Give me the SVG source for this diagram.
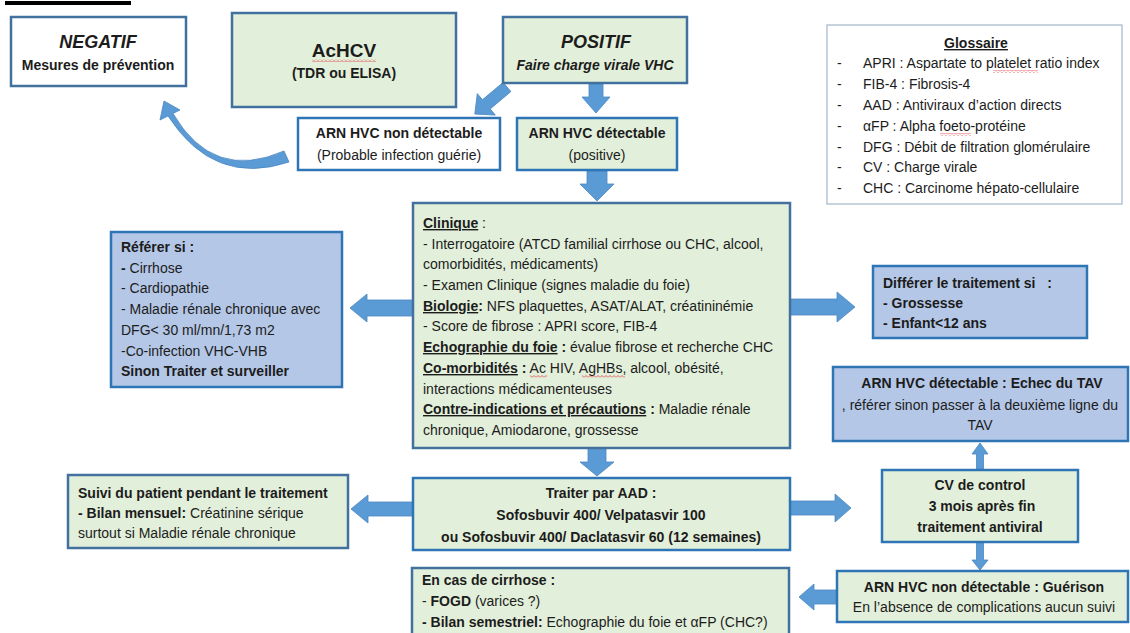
<svg xmlns="http://www.w3.org/2000/svg" width="1130" height="633" viewBox="0 0 1130 633">
  <style>
    text { font-family: "Liberation Sans", Arial, sans-serif; font-size: 14px; fill: #1c1c1c; }
    .b { font-weight: bold; }
    .i { font-style: italic; }
    .c { text-anchor: middle; }
    .u { text-decoration: underline; }
    .big { font-size: 18px; }
    .green { fill: #E2EFDA; }
    .blue { fill: #B4C7E7; }
    .white { fill: #FFFFFF; }
    .steel { stroke: #41719C; stroke-width: 2.5; }
    .bright { stroke: #2E75B6; stroke-width: 2.5; }
    .arrow { fill: #5B9BD5; stroke: #4A87C2; stroke-width: 0.8; }
  </style>
  <defs>
    <pattern id="squiggle" width="4" height="3" patternUnits="userSpaceOnUse">
      <path d="M0,2.5 L2,0.5 L4,2.5" fill="none" stroke="#E0393E" stroke-width="0.8"/>
    </pattern>
  </defs>

  <rect width="1130" height="633" fill="#FFFFFF"/>

  <!-- title underline -->
  <rect x="5" y="1" width="126" height="4" fill="#000000"/>

  <!-- connectors -->
  <g id="connectors">
    <!-- POSITIF -> ARN non détectable -->
    <polygon class="arrow" transform="translate(507,87) rotate(140)" points="42,0 27,-14 27,-6 0,-6 0,6 27,6 27,14"/>
    <!-- POSITIF -> ARN détectable -->
    <polygon class="arrow" points="596,113 582,97 589,97 589,84 603,84 603,97 610,97"/>
    <!-- ARN non détectable -> NEGATIF (curved) -->
    <path class="arrow" d="M164,101 L180,110 L173,113.5 Q213,182 284,151 L289,162 Q214,187 168,116 L160,120 Z"/>
    <!-- ARN détectable -> Clinique -->
    <polygon class="arrow" points="597,201 580,184 587,184 587,171 607,171 607,184 614,184"/>
    <!-- Clinique -> Référer -->
    <polygon class="arrow" points="350,308 367,294 367,300 413,300 413,316 367,316 367,322"/>
    <!-- Clinique -> Différer -->
    <polygon class="arrow" points="855,307 837,292 837,299 790,299 790,315 837,315 837,322"/>
    <!-- Clinique -> Traiter -->
    <polygon class="arrow" points="597,476 580,462 588,462 588,448 606,448 606,462 614,462"/>
    <!-- Traiter -> Suivi -->
    <polygon class="arrow" points="351,509 368,495 368,502 413,502 413,516 368,516 368,523"/>
    <!-- Traiter -> CV de control -->
    <polygon class="arrow" points="851,508 835,494 835,501 790,501 790,515 835,515 835,522"/>
    <!-- CV de control -> Echec -->
    <polygon class="arrow" points="980,443 972,454 976.5,454 976.5,470 983.5,470 983.5,454 988,454"/>
    <!-- CV de control -> Guérison -->
    <polygon class="arrow" points="980,570 972,560 976.5,560 976.5,542 983.5,542 983.5,560 988,560"/>
    <!-- Guérison -> cirrhose -->
    <polygon class="arrow" points="799,597 814,584 814,590 837,590 837,604 814,604 814,610"/>
  </g>

  <g id="negatif">
    <rect class="white steel" x="11" y="17" width="175" height="69"/>
    <text class="b i c big" x="98" y="48">NEGATIF</text>
    <text class="b c" x="98" y="70">Mesures de prévention</text>
  </g>

  <g id="achcv">
    <rect class="green steel" x="232" y="13" width="224" height="94"/>
    <text class="b c" x="344" y="57" style="font-size:19px">AcHCV</text>
    <rect x="312" y="59" width="64" height="3" fill="url(#squiggle)"/>
    <text class="b c" x="344" y="78">(TDR ou ELISA)</text>
  </g>

  <g id="positif">
    <rect class="green steel" x="503" y="17" width="184" height="66"/>
    <text class="b i c big" x="596" y="48">POSITIF</text>
    <text class="b i c" x="595" y="70">Faire charge virale VHC</text>
  </g>

  <g id="arn-non-detectable">
    <rect class="white bright" x="298" y="118" width="202" height="52"/>
    <text class="b c" x="399" y="138">ARN HVC non détectable</text>
    <text class="c" x="399" y="160">(Probable infection guérie)</text>
  </g>

  <g id="arn-detectable">
    <rect class="green bright" x="517" y="118" width="160" height="52"/>
    <text class="b c" x="597" y="138">ARN HVC détectable</text>
    <text class="c" x="597" y="160">(positive)</text>
  </g>

  <g id="glossaire">
    <rect x="827" y="25" width="295" height="179" fill="#FFFFFF" stroke="#A3B6CB" stroke-width="1.2"/>
    <text class="b c u" x="976" y="48">Glossaire</text>
    <g>
      <text x="837" y="68">-</text><text x="863" y="68">APRI : Aspartate to platelet ratio index</text>
      <text x="837" y="89">-</text><text x="863" y="89">FIB-4 : Fibrosis-4</text>
      <text x="837" y="110">-</text><text x="863" y="110">AAD : Antiviraux d’action directs</text>
      <text x="837" y="131">-</text><text x="863" y="131">αFP : Alpha foeto-protéine</text>
      <text x="837" y="152">-</text><text x="863" y="152">DFG : Débit de filtration glomérulaire</text>
      <text x="837" y="172">-</text><text x="863" y="172">CV : Charge virale</text>
      <text x="837" y="193">-</text><text x="863" y="193">CHC : Carcinome hépato-cellulaire</text>
    </g>
    <rect x="993" y="70" width="45" height="3" fill="url(#squiggle)"/>
    <rect x="940" y="133" width="31" height="3" fill="url(#squiggle)"/>
  </g>

  <g id="clinique">
    <rect class="green steel" x="413" y="203" width="377" height="245"/>
    <text x="423" y="228"><tspan class="b u">Clinique</tspan> :</text>
    <text x="423" y="249">- Interrogatoire (ATCD familial cirrhose ou CHC, alcool,</text>
    <text x="423" y="269">comorbidités, médicaments)</text>
    <text x="423" y="290">- Examen Clinique (signes maladie du foie)</text>
    <text x="423" y="311"><tspan class="b u">Biologie</tspan><tspan class="b">:</tspan> NFS plaquettes, ASAT/ALAT, créatininémie</text>
    <text x="423" y="331">- Score de fibrose : APRI score, FIB-4</text>
    <text x="423" y="352"><tspan class="b u">Echographie du foie</tspan><tspan class="b"> :</tspan> évalue fibrose et recherche CHC</text>
    <text x="423" y="373"><tspan class="b u">Co-morbidités</tspan><tspan class="b"> :</tspan> Ac HIV, AgHBs, alcool, obésité,</text>
    <rect x="530" y="375" width="17" height="3" fill="url(#squiggle)"/>
    <rect x="582" y="375" width="43" height="3" fill="url(#squiggle)"/>
    <text x="423" y="394">interactions médicamenteuses</text>
    <text x="423" y="414"><tspan class="b u">Contre-indications et précautions</tspan><tspan class="b"> :</tspan> Maladie rénale</text>
    <text x="423" y="435">chronique, Amiodarone, grossesse</text>
  </g>

  <g id="referer">
    <rect class="blue bright" x="111" y="232" width="231" height="155"/>
    <text class="b" x="121" y="252">Référer si :</text>
    <text x="121" y="273"><tspan class="b">-</tspan> Cirrhose</text>
    <text x="121" y="293">- Cardiopathie</text>
    <text x="121" y="314">- Maladie rénale chronique avec</text>
    <text x="121" y="335">DFG&lt; 30 ml/mn/1,73 m2</text>
    <text x="121" y="356">-Co-infection VHC-VHB</text>
    <text class="b" x="121" y="376">Sinon Traiter et surveiller</text>
  </g>

  <g id="differer">
    <rect class="blue bright" x="873" y="266" width="214" height="72"/>
    <text class="b" x="883" y="288" xml:space="preserve">Différer le traitement si   :</text>
    <text class="b" x="883" y="308">- Grossesse</text>
    <text class="b" x="883" y="328">- Enfant&lt;12 ans</text>
  </g>

  <g id="echec">
    <rect class="blue bright" x="833" y="367" width="295" height="74"/>
    <text class="b c" x="982" y="388">ARN HVC détectable : Echec du TAV</text>
    <text class="c" x="980" y="410">, référer sinon passer à la deuxième ligne du</text>
    <text class="c" x="980" y="430">TAV</text>
  </g>

  <g id="traiter">
    <rect class="green bright" x="413" y="478" width="377" height="72"/>
    <text class="b c" x="601" y="498">Traiter par AAD :</text>
    <text class="b c" x="601" y="520">Sofosbuvir 400/ Velpatasvir 100</text>
    <text class="b c" x="601" y="542">ou Sofosbuvir 400/ Daclatasvir 60 (12 semaines)</text>
  </g>

  <g id="suivi">
    <rect class="green steel" x="68" y="475" width="280" height="73"/>
    <text class="b" x="78" y="498">Suivi du patient pendant le traitement</text>
    <text x="78" y="518"><tspan class="b">- Bilan mensuel:</tspan> Créatinine sérique</text>
    <text x="78" y="538">surtout si Maladie rénale chronique</text>
  </g>

  <g id="cv-control">
    <rect class="green bright" x="882" y="470" width="196" height="72"/>
    <text class="b c" x="980" y="490">CV de control</text>
    <text class="b c" x="980" y="511" xml:space="preserve"> 3 mois après fin</text>
    <text class="b c" x="980" y="532">traitement antiviral</text>
  </g>

  <g id="guerison">
    <rect class="green bright" x="837" y="571" width="291" height="51"/>
    <text class="b c" x="984" y="592">ARN HVC non détectable : Guérison</text>
    <text class="c" x="984" y="612">En l’absence de complications aucun suivi</text>
  </g>

  <g id="cirrhose">
    <rect class="green steel" x="412" y="568" width="377" height="75"/>
    <text class="b" x="422" y="585">En cas de cirrhose :</text>
    <text x="422" y="606">- <tspan class="b">FOGD</tspan> (varices ?)</text>
    <text x="422" y="627"><tspan class="b">- Bilan semestriel:</tspan> Echographie du foie et αFP (CHC?)</text>
  </g>
</svg>
